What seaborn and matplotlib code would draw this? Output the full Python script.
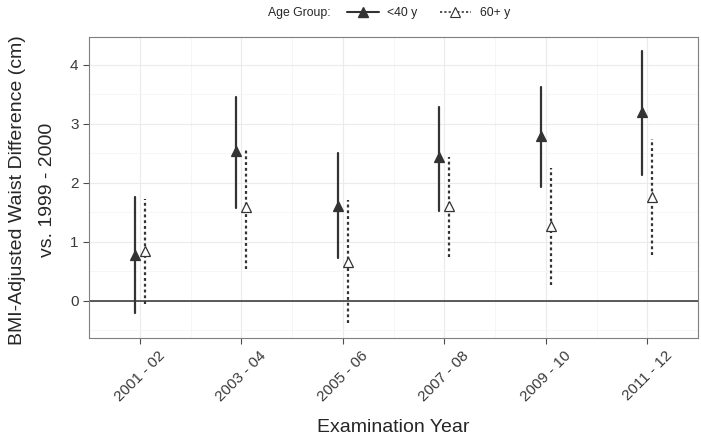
import numpy as np
import pandas as pd
import matplotlib
matplotlib.use("Agg")
import matplotlib.pyplot as plt
from matplotlib.lines import Line2D
import seaborn as sns

periods = ["2001 - 02", "2003 - 04", "2005 - 06", "2007 - 08", "2009 - 10", "2011 - 12"]
groups = ["<40 y", "60+ y"]

young_est = [0.77, 2.54, 1.61, 2.44, 2.80, 3.20]
young_low = [-0.21, 1.58, 0.72, 1.53, 1.93, 2.14]
young_high = [1.76, 3.46, 2.51, 3.29, 3.63, 4.23]

old_est = [0.84, 1.59, 0.66, 1.61, 1.26, 1.76]
old_low = [-0.05, 0.54, -0.38, 0.74, 0.27, 0.77]
old_high = [1.73, 2.59, 1.70, 2.44, 2.25, 2.75]

rows = []
for g, est, low, high in [(groups[0], young_est, young_low, young_high),
                          (groups[1], old_est, old_low, old_high)]:
    for p, e, lo, hi in zip(periods, est, low, high):
        for v in (lo, e, hi):
            rows.append({"period": p, "group": g, "value": v})
df = pd.DataFrame(rows)

sns.set_style("whitegrid")
plt.rcParams["font.family"] = ["Liberation Sans", "DejaVu Sans"]

fig = plt.figure(figsize=(7.01, 4.36), dpi=100)
ax = fig.add_axes([89 / 701, 1 - 338 / 436, (698 - 89) / 701, (338 - 37) / 436])

dark = "#333333"
dots = (0, (1.3, 1.3))
styles = {groups[0]: dict(ls="-", face=dark), groups[1]: dict(ls=dots, face="white")}

# median of (low, est, high) gives the estimate, min/max the interval
for g in groups:
    sub = df[df["group"] == g]
    n_before = len(ax.lines)
    sns.pointplot(data=sub, x="period", y="value", hue="group", hue_order=groups,
                  order=periods, dodge=0.1, estimator=np.median,
                  errorbar=lambda v: (v.min(), v.max()),
                  markers="^", linestyle="none", palette=[dark, dark],
                  err_kws={"linewidth": 1.6}, legend=False, ax=ax)
    for ln in ax.lines[n_before:]:
        if ln.get_marker() == "^":
            ln.set_markerfacecolor(styles[g]["face"])
            ln.set_markeredgecolor(dark)
            ln.set_markersize(7.5)
            ln.set_markeredgewidth(0.9)
            ln.set_zorder(5)
        else:
            ln.set_linestyle(styles[g]["ls"])
            ln.set_linewidth(1.6)
            ln.set_color(dark)

ax.axhline(0, color="#4d4d4d", linewidth=1.3, zorder=1)

ax.set_xlim(-0.5, len(periods) - 0.5)
ax.set_ylim(-0.63, 4.47)
ax.set_yticks([0, 1, 2, 3, 4])
ax.set_yticks(np.arange(-0.5, 4.5, 0.5), minor=True)
ax.set_xticks(range(len(periods)))
ax.set_xticks(np.arange(-0.5, len(periods), 1.0), minor=True)

ax.grid(which="major", color="#ebebeb", linewidth=0.8)
ax.grid(which="minor", color="#f5f5f5", linewidth=0.6)
for s in ax.spines.values():
    s.set_color("#7f7f7f")
    s.set_linewidth(0.8)

ax.tick_params(axis="both", which="major", length=4, width=0.8, color="#4d4d4d",
               labelcolor="#3a3a3a", labelsize=11, bottom=True, left=True)
ax.tick_params(axis="both", which="minor", length=0)
ax.set_xticklabels(periods, rotation=45, ha="center", va="top")

ax.set_xlabel("Examination Year", fontsize=14, labelpad=11)
ax.set_ylabel("")
fig.text(18 / 701, 1 - 190 / 436, "BMI-Adjusted Waist Difference (cm)", rotation=90,
         ha="center", va="center", fontsize=14)
fig.text(48 / 701, 1 - 190 / 436, "vs. 1999 - 2000", rotation=90,
         ha="center", va="center", fontsize=14)

fig.text(268 / 701, 1 - 13 / 436, "Age Group:", ha="left", va="center", fontsize=8.8)
handles = [
    Line2D([], [], color=dark, linestyle="-", linewidth=1.5, marker="^",
           markersize=7.5, markerfacecolor=dark, markeredgecolor=dark),
    Line2D([], [], color=dark, linestyle=dots, linewidth=1.2, marker="^",
           markersize=7.5, markerfacecolor="white", markeredgecolor=dark, markeredgewidth=0.8),
]
fig.legend(handles, groups, loc="center left", bbox_to_anchor=(347 / 701, 1 - 13 / 436),
           ncol=2, frameon=False, fontsize=8.8, handlelength=2.6, handletextpad=0.7,
           columnspacing=1.8, borderpad=0, borderaxespad=0)

fig.savefig("out.png", dpi=100)
